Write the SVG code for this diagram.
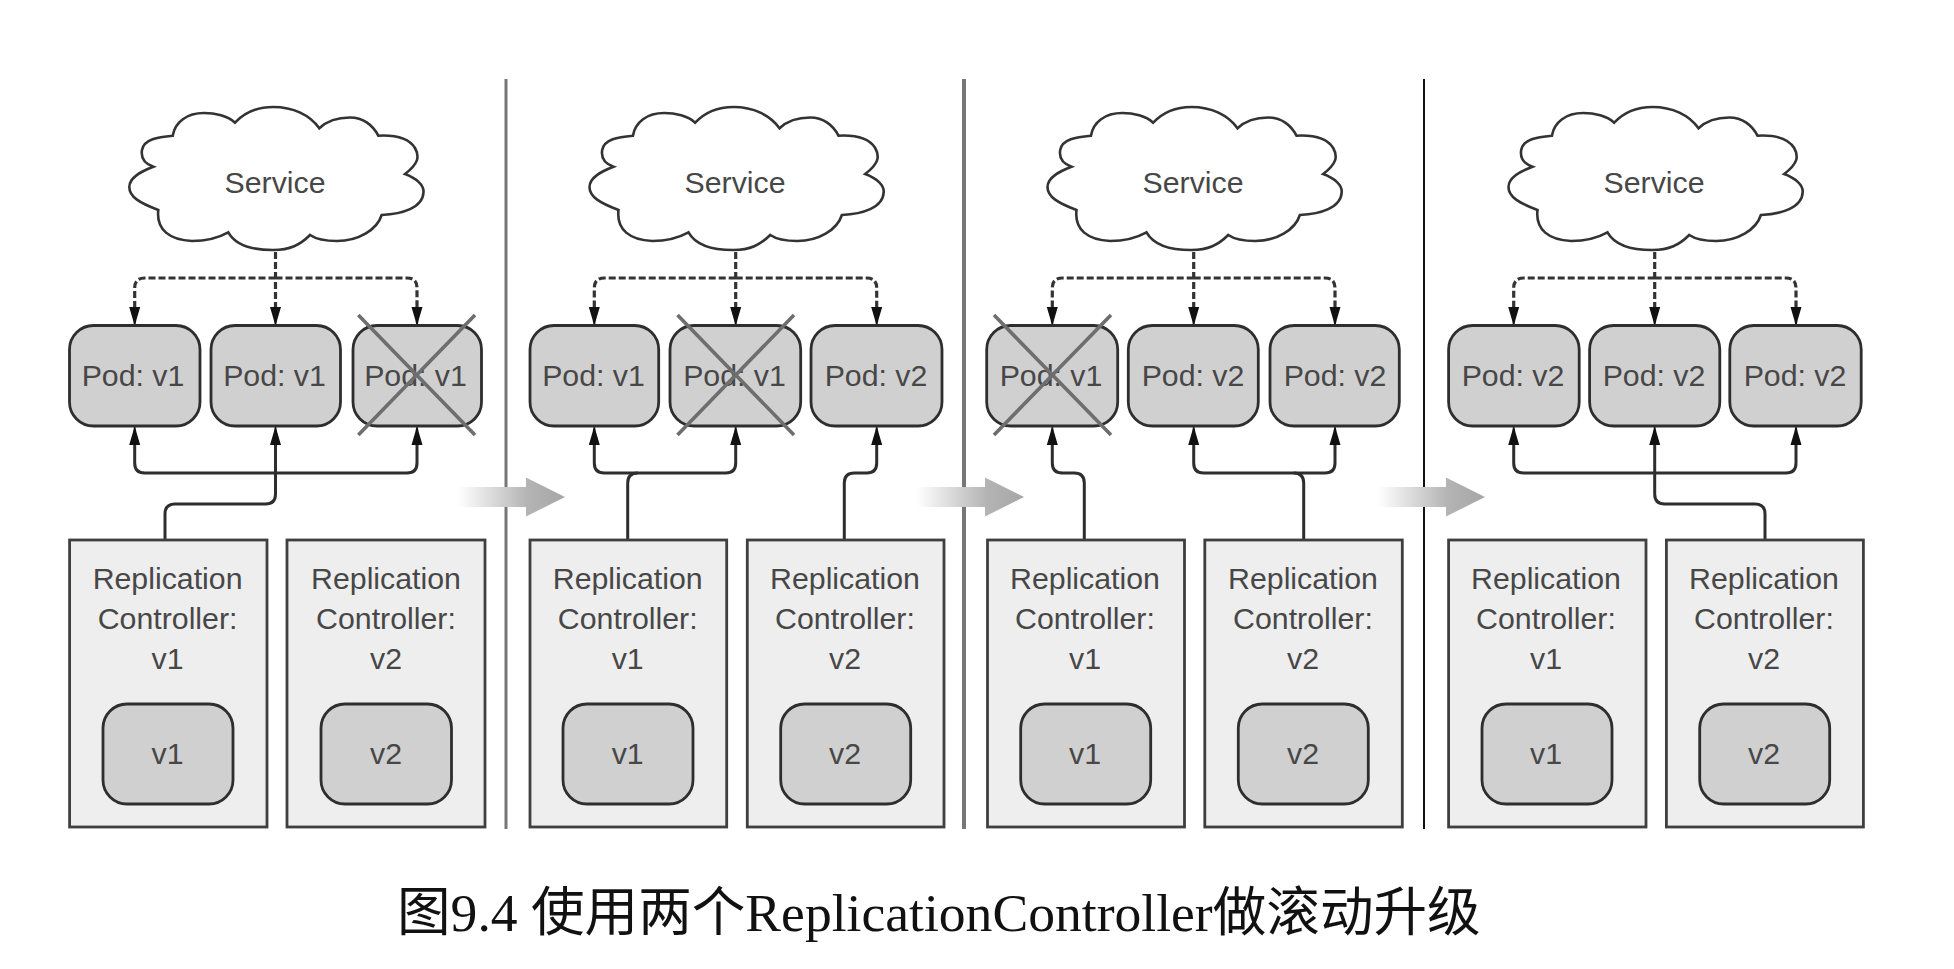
<svg xmlns="http://www.w3.org/2000/svg" xmlns:xlink="http://www.w3.org/1999/xlink" width="1954" height="969" viewBox="0 0 1954 969">
<style>
text{font-family:"Liberation Sans",Arial,sans-serif;font-size:30.3px;fill:#474747;text-anchor:middle}
.cap{font-family:"Liberation Serif","Noto Sans CJK SC",serif;font-size:53.6px;fill:#111;text-anchor:start}
.cloud{fill:#fff;stroke:#333;stroke-width:2.6}
.pod{fill:#d0d0d0;stroke:#2e2e2e;stroke-width:2.8}
.rc{fill:#eeeeee;stroke:#3f3f3f;stroke-width:2.8}
.x{stroke:#6e6e6e;stroke-width:3.6;fill:none}
.solid{fill:none;stroke:#2e2e2e;stroke-width:3}
.arr{marker-end:url(#head)}
.both{marker-start:url(#head);marker-end:url(#head)}
.dash{fill:none;stroke:#333;stroke-width:3.2;stroke-dasharray:7 3}
.sep1{stroke:#777;stroke-width:3}
.sep2{stroke:#777;stroke-width:4}
.sep3{stroke:#111;stroke-width:2}
</style>
<defs>
<marker id="head" markerUnits="userSpaceOnUse" markerWidth="20" markerHeight="14" refX="2" refY="7" orient="auto-start-reverse">
<path d="M0 1.5L13 5.3L18 6.3V7.7L13 8.7L0 12.5Z" fill="#111"/>
</marker>
<linearGradient id="fade"><stop offset="0" stop-color="#fff"/><stop offset="0.65" stop-color="#b4b4b4"/><stop offset="1" stop-color="#a6a6a6"/></linearGradient>
<path id="cl" d="M235 122.7C245 112 258 107 273.3 107C293 107 310 115 319.3 128.3C328 120 338 117.5 350 117.5C363 117.5 373 125 378.3 135.7C392 135 408 137 415 148C420 157 418 164 405 174C416 178 424 185 423.5 192C423 208 402 214 381.7 215C377 230 358 241 337 241C326 241 316 239 310 235C300 245 290 250 273 250C255 250 236 246 228.3 232.3C218 238 205 241 192 241C170 240 156 230 158.3 210C140 203 129.3 197 129.3 187C129.3 177 142 171 153.3 166.7C143 163 141 156 142 150C144 139 158 137 172.7 135.7C175 122 187 113 204 113C215 113 228 116 235 122.7Z"/>
<path id="fa" d="M0 9.5H68V0L107 19.5L68 39V29.5H0Z"/>
</defs>
<rect width="1954" height="969" fill="#fff"/>

<g id="connectors">
<g id="conn-panel1">
<path class="dash arr" d="M275.5 252V309"/>
<path class="dash arr" d="M275.5 278H144.7Q134.7 278 134.7 288V309"/>
<path class="dash arr" d="M275.5 278H407Q417 278 417 288V309"/>
<path class="solid both" d="M134.7 443V463Q134.7 473 144.7 473H407Q417 473 417 463V443"/>
<path class="solid arr" d="M165 540V514Q165 504 175 504H265.5Q275.5 504 275.5 494V443"/>
</g>
<g id="conn-panel2">
<path class="dash arr" d="M735.7 252V309"/>
<path class="dash arr" d="M735.7 278H604.3Q594.3 278 594.3 288V309"/>
<path class="dash arr" d="M735.7 278H866.7Q876.7 278 876.7 288V309"/>
<path class="solid both" d="M594.3 443V463Q594.3 473 604.3 473H725.7Q735.7 473 735.7 463V443"/>
<path class="solid" d="M627.7 540V483Q627.7 473 637.7 473"/>
<path class="solid arr" d="M844.3 540V483Q844.3 473 854.3 473H866.7Q876.7 473 876.7 463V443"/>
</g>
<g id="conn-panel3">
<path class="dash arr" d="M1193.7 252V309"/>
<path class="dash arr" d="M1193.7 278H1062.3Q1052.3 278 1052.3 288V309"/>
<path class="dash arr" d="M1193.7 278H1325Q1335 278 1335 288V309"/>
<path class="solid arr" d="M1084.3 540V483Q1084.3 473 1074.3 473H1062.3Q1052.3 473 1052.3 463V443"/>
<path class="solid both" d="M1193.7 443V463Q1193.7 473 1203.7 473H1325Q1335 473 1335 463V443"/>
<path class="solid" d="M1303.7 540V483Q1303.7 473 1293.7 473"/>
</g>
<g id="conn-panel4">
<path class="dash arr" d="M1654.7 252V309"/>
<path class="dash arr" d="M1654.7 278H1523.7Q1513.7 278 1513.7 288V309"/>
<path class="dash arr" d="M1654.7 278H1786Q1796 278 1796 288V309"/>
<path class="solid both" d="M1513.7 443V463Q1513.7 473 1523.7 473H1786Q1796 473 1796 463V443"/>
<path class="solid arr" d="M1765 540V514Q1765 504 1755 504H1664.7Q1654.7 504 1654.7 494V443"/>
</g>
</g>

<g id="separators">
<line class="sep1" x1="506" y1="79" x2="506" y2="829"/>
<line class="sep2" x1="964" y1="79" x2="964" y2="829"/>
<line class="sep3" x1="1424" y1="79" x2="1424" y2="829"/>
</g>

<g id="step-arrows">
<use xlink:href="#fa" href="#fa" transform="translate(458 477.5)" fill="url(#fade)"/>
<use xlink:href="#fa" href="#fa" transform="translate(917 477.5)" fill="url(#fade)"/>
<use xlink:href="#fa" href="#fa" transform="translate(1378 477.5)" fill="url(#fade)"/>
</g>

<g id="service1"><use xlink:href="#cl" href="#cl" class="cloud"/><text x="275" y="193">Service</text></g>
<g id="service2"><use xlink:href="#cl" href="#cl" class="cloud" transform="translate(460.2 0)"/><text x="735" y="193">Service</text></g>
<g id="service3"><use xlink:href="#cl" href="#cl" class="cloud" transform="translate(918.2 0)"/><text x="1193" y="193">Service</text></g>
<g id="service4"><use xlink:href="#cl" href="#cl" class="cloud" transform="translate(1379.2 0)"/><text x="1654" y="193">Service</text></g>

<g id="pod1-1"><rect class="pod" x="69.5" y="325.5" width="130.5" height="100.5" rx="24"/><text x="133" y="386">Pod: v1</text></g>
<g id="pod1-2"><rect class="pod" x="211" y="325.5" width="129.5" height="100.5" rx="24"/><text x="274.5" y="386">Pod: v1</text></g>
<g id="pod1-3"><rect class="pod" x="353" y="325.5" width="128.5" height="100.5" rx="24"/><text x="415.5" y="386">Pod: v1</text><path class="x" d="M358.3 315L475 435M475 315L358.3 435"/></g>

<g id="pod2-1"><rect class="pod" x="530" y="325.5" width="128.7" height="100.5" rx="24"/><text x="593.5" y="386">Pod: v1</text></g>
<g id="pod2-2"><rect class="pod" x="670" y="325.5" width="130.7" height="100.5" rx="24"/><text x="734.5" y="386">Pod: v1</text><path class="x" d="M677.5 315L794 435M794 315L677.5 435"/></g>
<g id="pod2-3"><rect class="pod" x="811" y="325.5" width="131" height="100.5" rx="24"/><text x="876" y="386">Pod: v2</text></g>

<g id="pod3-1"><rect class="pod" x="986.7" y="325.5" width="131" height="100.5" rx="24"/><text x="1051" y="386">Pod: v1</text><path class="x" d="M994 315L1111 435M1111 315L994 435"/></g>
<g id="pod3-2"><rect class="pod" x="1128.3" y="325.5" width="130" height="100.5" rx="24"/><text x="1193" y="386">Pod: v2</text></g>
<g id="pod3-3"><rect class="pod" x="1270" y="325.5" width="129.3" height="100.5" rx="24"/><text x="1335" y="386">Pod: v2</text></g>

<g id="pod4-1"><rect class="pod" x="1448.6" y="325.5" width="130.6" height="100.5" rx="24"/><text x="1513" y="386">Pod: v2</text></g>
<g id="pod4-2"><rect class="pod" x="1589.6" y="325.5" width="130.2" height="100.5" rx="24"/><text x="1654" y="386">Pod: v2</text></g>
<g id="pod4-3"><rect class="pod" x="1729.8" y="325.5" width="131.4" height="100.5" rx="24"/><text x="1795" y="386">Pod: v2</text></g>

<g id="rc1-v1"><rect class="rc" x="69.6" y="540" width="197.4" height="287"/><text x="167.6" y="589">Replication</text><text x="167.6" y="629">Controller:</text><text x="167.6" y="669">v1</text><rect class="pod" x="103" y="704" width="130" height="100" rx="24"/><text x="167.6" y="764">v1</text></g>
<g id="rc1-v2"><rect class="rc" x="287" y="540" width="198" height="287"/><text x="386" y="589">Replication</text><text x="386" y="629">Controller:</text><text x="386" y="669">v2</text><rect class="pod" x="321" y="704" width="130.5" height="100" rx="24"/><text x="386" y="764">v2</text></g>

<g id="rc2-v1"><rect class="rc" x="530" y="540" width="196.7" height="287"/><text x="627.7" y="589">Replication</text><text x="627.7" y="629">Controller:</text><text x="627.7" y="669">v1</text><rect class="pod" x="563" y="704" width="130" height="100" rx="24"/><text x="627.7" y="764">v1</text></g>
<g id="rc2-v2"><rect class="rc" x="747.3" y="540" width="196.7" height="287"/><text x="845" y="589">Replication</text><text x="845" y="629">Controller:</text><text x="845" y="669">v2</text><rect class="pod" x="780.7" y="704" width="130" height="100" rx="24"/><text x="845" y="764">v2</text></g>

<g id="rc3-v1"><rect class="rc" x="987.5" y="540" width="197" height="287"/><text x="1085" y="589">Replication</text><text x="1085" y="629">Controller:</text><text x="1085" y="669">v1</text><rect class="pod" x="1020.7" y="704" width="130" height="100" rx="24"/><text x="1085" y="764">v1</text></g>
<g id="rc3-v2"><rect class="rc" x="1204.8" y="540" width="197.5" height="287"/><text x="1303" y="589">Replication</text><text x="1303" y="629">Controller:</text><text x="1303" y="669">v2</text><rect class="pod" x="1238.3" y="704" width="130" height="100" rx="24"/><text x="1303" y="764">v2</text></g>

<g id="rc4-v1"><rect class="rc" x="1448.6" y="540" width="197.4" height="287"/><text x="1546" y="589">Replication</text><text x="1546" y="629">Controller:</text><text x="1546" y="669">v1</text><rect class="pod" x="1482" y="704" width="130" height="100" rx="24"/><text x="1546" y="764">v1</text></g>
<g id="rc4-v2"><rect class="rc" x="1666.4" y="540" width="197" height="287"/><text x="1764" y="589">Replication</text><text x="1764" y="629">Controller:</text><text x="1764" y="669">v2</text><rect class="pod" x="1699.7" y="704" width="130" height="100" rx="24"/><text x="1764" y="764">v2</text></g>

<text id="caption" class="cap" x="397" y="931">图9.4 使用两个ReplicationController做滚动升级</text>
</svg>
